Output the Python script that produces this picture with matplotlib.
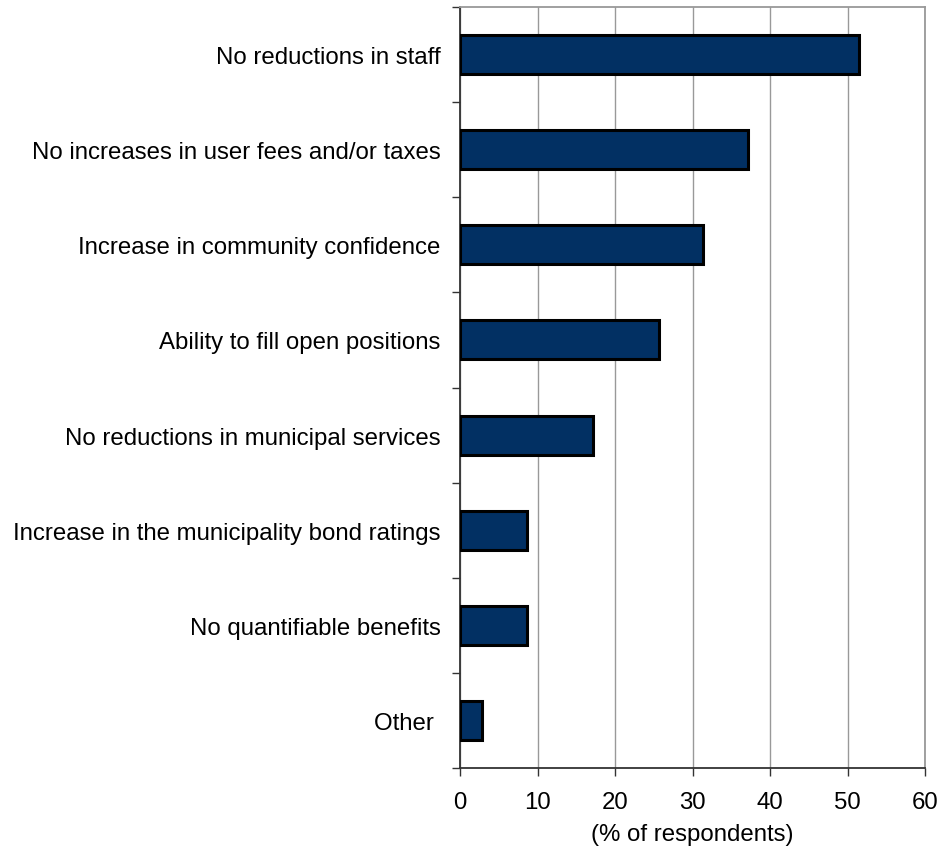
import matplotlib
matplotlib.use("Agg")
import matplotlib.pyplot as plt
from matplotlib.ticker import FixedLocator, NullFormatter

categories = [
    "No reductions in staff",
    "No increases in user fees and/or taxes",
    "Increase in community confidence",
    "Ability to fill open positions",
    "No reductions in municipal services",
    "Increase in the municipality bond ratings",
    "No quantifiable benefits",
    "Other ",
]
values = [51.5, 37.1, 31.4, 25.7, 17.1, 8.6, 8.6, 2.8]
x_ticks = [0, 10, 20, 30, 40, 50, 60]
x_label = "(% of respondents)"

plt.rcParams['font.family'] = ['Liberation Sans', 'DejaVu Sans']
FS = 17.3

fig = plt.figure(figsize=(9.41, 8.53), dpi=100)
ax = fig.add_axes([460/941, 1-769/853, 465/941, 761/853])

n = len(categories)
ypos = list(range(n))
ax.barh(ypos, values, height=0.41, color='#023063', edgecolor='black', linewidth=2.2, zorder=3)
ax.set_ylim(n - 0.5, -0.5)
ax.set_xlim(0, 60)

ax.set_yticks(ypos)
ax.set_yticklabels(categories, fontsize=FS)
ax.tick_params(axis='y', which='major', length=0, pad=14)
ax.yaxis.set_minor_locator(FixedLocator([i - 0.5 for i in range(n + 1)]))
ax.yaxis.set_minor_formatter(NullFormatter())
ax.tick_params(axis='y', which='minor', length=6, width=1, color='#333333', direction='out')

ax.set_xticks(x_ticks)
ax.set_xticklabels([str(t) for t in x_ticks], fontsize=FS)
ax.tick_params(axis='x', length=6, width=1, color='#333333', direction='out', pad=10.5)
ax.set_xlabel(x_label, fontsize=FS, labelpad=7)

ax.grid(axis='x', color='#999999', linewidth=1, zorder=0)
ax.set_axisbelow(True)

ax.spines['left'].set_color('#333333')
ax.spines['bottom'].set_color('#333333')
ax.spines['left'].set_linewidth(1.3)
ax.spines['bottom'].set_linewidth(1.3)
ax.spines['top'].set_color('#999999')
ax.spines['right'].set_color('#999999')
ax.spines['top'].set_linewidth(1.3)
ax.spines['right'].set_linewidth(1.3)

fig.savefig("out.png", dpi=100)
